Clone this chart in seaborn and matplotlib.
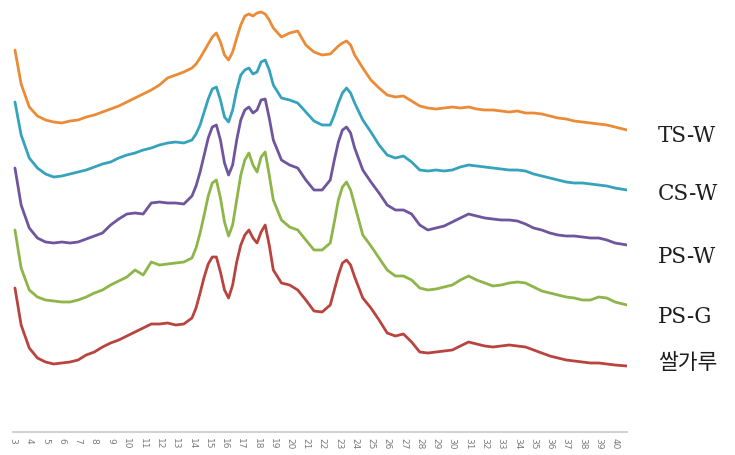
import numpy as np
import pandas as pd
import matplotlib
matplotlib.use("Agg")
import matplotlib.pyplot as plt
import seaborn as sns

# ---- data (2-theta in degrees, intensity in arbitrary units as stacked in the chart) ----
two_theta = [3.12, 3.5, 4.0, 4.5, 5.0, 5.5, 6.0, 6.5, 7.0, 7.5,
             8.0, 8.5, 9.0, 9.5, 10.0, 10.5, 11.0, 11.5, 12.0, 12.5,
             13.0, 13.5, 14.0, 14.25, 14.5, 14.75, 15.0, 15.25, 15.5, 15.75,
             16.0, 16.25, 16.5, 16.75, 17.0, 17.25, 17.5, 17.75, 18.0, 18.25,
             18.5, 18.75, 19.0, 19.5, 20.0, 20.5, 21.0, 21.5, 22.0, 22.5,
             22.75, 23.0, 23.25, 23.5, 23.75, 24.0, 24.5, 25.0, 25.5, 26.0,
             26.5, 27.0, 27.5, 28.0, 28.5, 29.0, 29.5, 30.0, 30.5, 31.0,
             31.5, 32.0, 32.5, 33.0, 33.5, 34.0, 34.5, 35.0, 35.5, 36.0,
             36.5, 37.0, 37.5, 38.0, 38.5, 39.0, 39.5, 40.0, 40.74]

ts_w = [382, 348, 325, 316, 312, 310, 309, 311, 312, 315,
        317, 320, 323, 326, 330, 334, 338, 342, 347, 354,
        357, 360, 364, 368, 374, 381, 388, 395, 399, 390,
        377, 372, 380, 394, 407, 416, 418, 416, 419, 420,
        418, 412, 404, 395, 399, 401, 387, 380, 377, 378,
        382, 386, 389, 391, 387, 377, 364, 352, 344, 337,
        335, 336, 331, 326, 324, 323, 324, 325, 324, 325,
        323, 322, 322, 321, 320, 321, 319, 319, 318, 316,
        314, 313, 311, 310, 309, 308, 307, 305, 302]

cs_w = [330, 297, 274, 264, 258, 255, 256, 258, 260, 262,
        265, 268, 270, 274, 277, 279, 282, 284, 287, 289,
        290, 289, 292, 298, 307, 320, 333, 343, 345, 332,
        315, 310, 322, 342, 357, 362, 364, 358, 360, 370,
        372, 362, 347, 334, 332, 329, 320, 311, 307, 307,
        317, 329, 339, 344, 339, 329, 312, 300, 287, 277,
        274, 276, 270, 262, 261, 262, 261, 262, 265, 267,
        266, 265, 264, 263, 262, 262, 261, 258, 256, 254,
        252, 250, 249, 249, 248, 247, 246, 244, 242]

ps_w = [264, 227, 204, 194, 190, 189, 190, 189, 190, 193,
        196, 199, 207, 213, 218, 219, 218, 229, 230, 229,
        229, 228, 236, 246, 260, 277, 294, 305, 307, 292,
        269, 257, 267, 292, 312, 322, 325, 319, 322, 332,
        333, 314, 292, 272, 267, 264, 252, 242, 242, 252,
        272, 290, 302, 305, 299, 284, 262, 250, 239, 227,
        222, 222, 218, 207, 202, 204, 206, 210, 214, 218,
        216, 214, 213, 212, 212, 211, 208, 204, 202, 199,
        197, 196, 196, 195, 194, 194, 192, 189, 187]

ps_g = [202, 164, 142, 135, 132, 131, 130, 130, 132, 135,
        139, 142, 147, 151, 155, 162, 157, 170, 167, 168,
        169, 170, 174, 184, 199, 217, 236, 249, 252, 234,
        210, 196, 207, 232, 257, 272, 279, 267, 260, 275,
        280, 257, 232, 212, 205, 202, 192, 182, 182, 189,
        210, 232, 245, 250, 242, 227, 197, 186, 174, 162,
        156, 156, 152, 144, 142, 143, 145, 147, 152, 156,
        152, 149, 146, 147, 149, 150, 149, 145, 141, 139,
        137, 135, 134, 132, 132, 135, 134, 130, 127]

rice = [144, 107, 84, 74, 70, 68, 69, 70, 72, 77,
        80, 85, 89, 92, 96, 100, 104, 108, 108, 109,
        107, 108, 114, 124, 139, 155, 168, 175, 175, 160,
        142, 134, 147, 170, 187, 197, 202, 194, 189, 200,
        207, 187, 162, 149, 147, 142, 132, 121, 120, 127,
        142, 157, 169, 172, 167, 155, 134, 124, 112, 99,
        96, 98, 90, 80, 79, 80, 81, 82, 86, 90,
        88, 86, 85, 86, 87, 86, 85, 82, 79, 76,
        74, 72, 71, 70, 69, 69, 68, 67, 66]

samples = ["TS-W", "CS-W", "PS-W", "PS-G", "쌀가루"]
series = [ts_w, cs_w, ps_w, ps_g, rice]
tick_values = list(range(3, 41))
tick_labels = [str(v) for v in tick_values]

colors = ["#EB8B38", "#35A3BC", "#6F559E", "#8DB548", "#B9443F"]

# ---- build long-form table ----
frames = []
for name, vals in zip(samples, series):
    frames.append(pd.DataFrame({"angle": two_theta, "intensity": vals, "sample": name}))
df = pd.concat(frames, ignore_index=True)

sns.set_style("white")
plt.rcParams["font.family"] = ["DejaVu Serif", "Noto Sans CJK KR"]

fig = plt.figure(figsize=(7.35, 4.55), dpi=100)
ax = fig.add_axes([13 / 735, 23 / 455, 614 / 735, 432 / 455])

sns.lineplot(data=df, x="angle", y="intensity", hue="sample",
             palette=dict(zip(samples, colors)), estimator=None, sort=False,
             linewidth=2.0, legend=False, ax=ax)

ax.set_xlim(3.0, 40.74)
ax.set_ylim(0, 432)
ax.set_xlabel("")
ax.set_ylabel("")
ax.set_yticks([])
ax.set_xticks(tick_values)
ax.set_xticklabels(tick_labels, rotation=-90, fontsize=6.5, color="#7a7a7a",
                   family="DejaVu Sans")
ax.tick_params(axis="x", length=0, pad=4)
for side in ["top", "right", "left"]:
    ax.spines[side].set_visible(False)
ax.spines["bottom"].set_color("#c8c8c8")
ax.spines["bottom"].set_linewidth(1.2)
ax.patch.set_alpha(0)

# labels next to the curve ends
label_y = [136, 194, 257, 317, 363]
for name, yc in zip(samples, label_y):
    fig.text(658 / 735, 1 - yc / 455, name, ha="left", va="center",
             fontsize=15.5, color="#1e1e1e")

fig.savefig("out.png", dpi=100)
